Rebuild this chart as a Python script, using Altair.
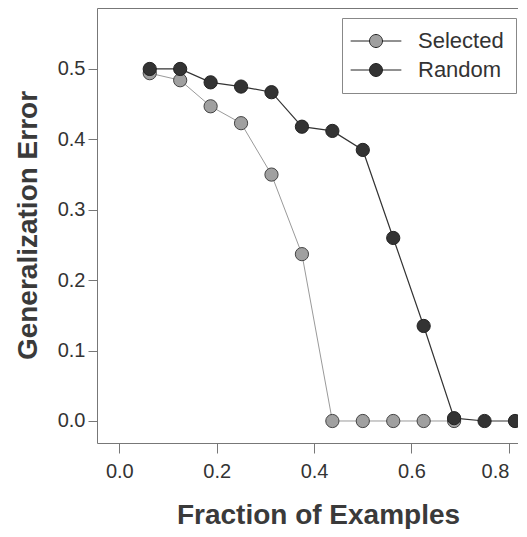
import altair as alt
import pandas as pd

x_vals = [0.0625, 0.125, 0.1875, 0.25, 0.3125, 0.375, 0.4375, 0.5, 0.5625, 0.625, 0.6875, 0.75, 0.8125]
selected = [0.494, 0.484, 0.447, 0.423, 0.350, 0.237, 0.0, 0.0, 0.0, 0.0, 0.0]
random_ = [0.500, 0.500, 0.481, 0.475, 0.467, 0.418, 0.412, 0.385, 0.260, 0.135, 0.004, 0.0, 0.0]
series = ["Selected", "Random"]
x_ticks = [0.0, 0.2, 0.4, 0.6, 0.8]
y_ticks = [0.0, 0.1, 0.2, 0.3, 0.4, 0.5]

rows = []
for xv, yv in zip(x_vals, selected):
    rows.append({"x": xv, "y": yv, "series": "Selected", "order": 0})
for xv, yv in zip(x_vals, random_):
    rows.append({"x": xv, "y": yv, "series": "Random", "order": 1})
df = pd.DataFrame(rows)

FONT = "Liberation Sans"
xscale = alt.Scale(domain=[-0.0458, 0.8187], nice=False, zero=False)
yscale = alt.Scale(domain=[-0.03125, 0.5866], nice=False, zero=False)

xenc = alt.X("x:Q", scale=xscale, axis=alt.Axis(
    values=x_ticks, format=".1f", title="Fraction of Examples",
    titleX=221, titleY=80, titleBaseline="alphabetic", titleAnchor="middle",
    titleFontSize=28, titleFontWeight="bold", titleColor="#3a3a3a", titleFont=FONT,
    labelFontSize=20, labelColor="#333", labelFont=FONT, labelPadding=8,
    labelFlush=12,
    tickSize=10, tickColor="#777", domain=False, grid=False))
yenc = alt.Y("y:Q", scale=yscale, axis=alt.Axis(
    values=y_ticks, format=".1f", title="Generalization Error",
    titleX=-69, titleY=217, titleAngle=270, titleBaseline="middle", titleAlign="center",
    titleFontSize=28, titleFontWeight="bold", titleColor="#3a3a3a", titleFont=FONT,
    labelFontSize=20, labelColor="#333", labelFont=FONT, labelPadding=3,
    tickSize=9, tickColor="#777", domain=False, grid=False))

sel = df[df.series == "Selected"]
rnd = df[df.series == "Random"]

line_sel = alt.Chart(sel).mark_line(color="#9a9a9a", strokeWidth=1).encode(x=xenc, y=yenc)
line_rnd = alt.Chart(rnd).mark_line(color="#333333", strokeWidth=1.2).encode(x=xenc, y=yenc)

symbol_path = "M-3.9,0L-1,0M1,0L3.9,0M1,0A1,1,0,1,1,-1,0A1,1,0,1,1,1,0Z"

pts_sel = alt.Chart(sel).mark_point(filled=True, size=175, stroke="#444", strokeWidth=1, opacity=1).encode(
    x=xenc, y=yenc,
    fill=alt.Fill("series:N", scale=alt.Scale(domain=series, range=["#a0a0a0", "#333333"]),
                  legend=alt.Legend(
                      title=None, orient="none", legendX=245, legendY=10,
                      symbolType=symbol_path, symbolSize=169, symbolStrokeColor="#333",
                      symbolStrokeWidth=1, symbolOffset=11, labelOffset=31,
                      labelFontSize=22, labelColor="#333", labelFont=FONT,
                      padding=12, rowPadding=7, strokeColor="#888", fillColor="white",
                      symbolOpacity=1)))
pts_rnd = alt.Chart(rnd).mark_point(filled=True, size=175, stroke="#222", strokeWidth=1, opacity=1).encode(
    x=xenc, y=yenc,
    fill=alt.Fill("series:N", scale=alt.Scale(domain=series, range=["#a0a0a0", "#333333"])))

chart = alt.layer(line_sel, pts_sel, line_rnd, pts_rnd).properties(
    width=421, height=435,
    autosize=alt.AutoSizeParams(type="none"),
    padding={"left": 89, "top": 0, "right": 0, "bottom": 86},
).configure_view(stroke="#777", strokeWidth=1)

chart.save("out.html", embed_options={"renderer": "svg", "actions": False})
